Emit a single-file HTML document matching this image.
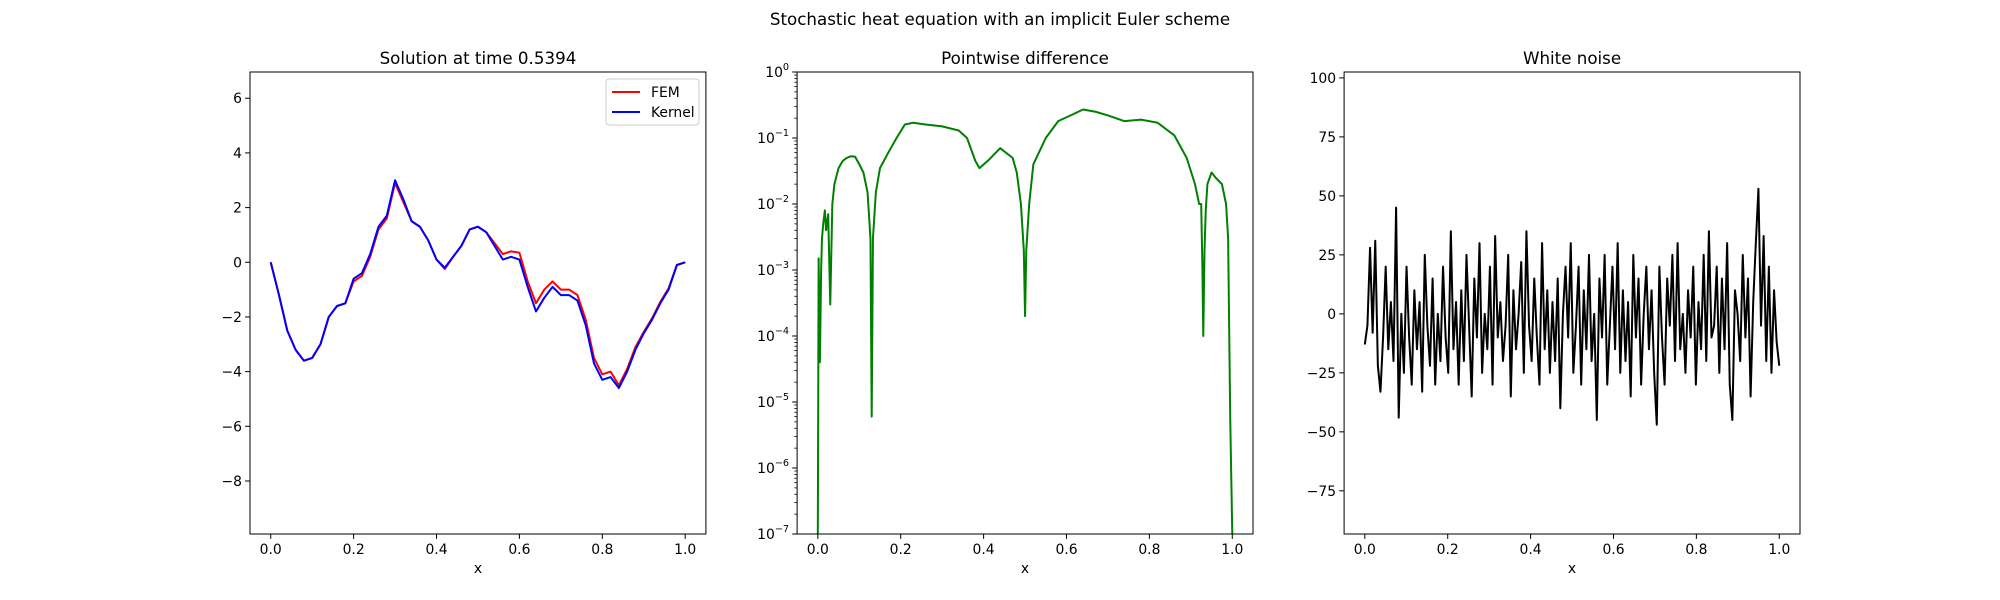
<!DOCTYPE html>
<html><head><meta charset="utf-8">
<style>
html,body{margin:0;padding:0;background:#fff;}
svg{display:block;font-family:"DejaVu Sans","Liberation Sans",sans-serif;}
</style></head>
<body>
<svg id="fig" width="2000" height="600" viewBox="0 0 2000 600" xmlns="http://www.w3.org/2000/svg">
<rect width="2000" height="600" fill="#fff"/>
<text x="1000" y="25" font-size="16.7" text-anchor="middle">Stochastic heat equation with an implicit Euler scheme</text>
</svg>
<script>
// ---------- data ----------
const solX = [0,0.02,0.04,0.06,0.08,0.10,0.12,0.14,0.16,0.18,0.20,0.22,0.24,0.26,0.28,0.30,0.32,0.34,0.36,0.38,0.40,0.42,0.44,0.46,0.48,0.50,0.52,0.54,0.56,0.58,0.60,0.62,0.64,0.66,0.68,0.70,0.72,0.74,0.76,0.78,0.80,0.82,0.84,0.86,0.88,0.90,0.92,0.94,0.96,0.98,1.0];
const kernelY = [0,-1.2,-2.5,-3.2,-3.6,-3.5,-3.0,-2.0,-1.6,-1.5,-0.6,-0.4,0.3,1.3,1.7,3.0,2.3,1.5,1.3,0.8,0.1,-0.2,0.2,0.6,1.2,1.3,1.1,0.6,0.1,0.2,0.1,-0.9,-1.8,-1.3,-0.9,-1.2,-1.2,-1.4,-2.3,-3.7,-4.3,-4.2,-4.6,-4.0,-3.2,-2.6,-2.1,-1.5,-1.0,-0.1,0];
const femY = [0,-1.2,-2.5,-3.2,-3.6,-3.5,-3.0,-2.0,-1.6,-1.5,-0.7,-0.5,0.2,1.2,1.6,2.9,2.2,1.5,1.3,0.8,0.1,-0.25,0.2,0.6,1.2,1.3,1.1,0.7,0.3,0.4,0.35,-0.7,-1.5,-1.0,-0.7,-1.0,-1.0,-1.2,-2.1,-3.5,-4.1,-4.0,-4.5,-3.9,-3.1,-2.55,-2.05,-1.45,-0.95,-0.1,0];

const diffX = [0,0.002,0.005,0.008,0.01,0.013,0.017,0.02,0.025,0.03,0.035,0.04,0.05,0.06,0.07,0.08,0.09,0.10,0.11,0.12,0.127,0.13,0.133,0.14,0.15,0.17,0.19,0.21,0.23,0.26,0.30,0.34,0.36,0.38,0.39,0.41,0.44,0.47,0.48,0.49,0.497,0.5,0.503,0.51,0.52,0.55,0.58,0.61,0.64,0.67,0.70,0.74,0.78,0.82,0.86,0.89,0.91,0.92,0.925,0.928,0.93,0.933,0.936,0.94,0.95,0.96,0.975,0.985,0.99,0.995,1.0];
const diffY = [1e-7,1.5e-3,4e-5,1e-3,3e-3,5e-3,8e-3,4e-3,7e-3,3e-4,1e-2,2e-2,3.5e-2,4.5e-2,5e-2,5.3e-2,5.2e-2,4e-2,3e-2,1.5e-2,3e-3,6e-6,3e-3,1.5e-2,3.5e-2,6e-2,1e-1,1.6e-1,1.7e-1,1.6e-1,1.5e-1,1.3e-1,1e-1,4.5e-2,3.5e-2,4.5e-2,7e-2,5e-2,3e-2,1e-2,2e-3,2e-4,2e-3,1e-2,4e-2,1e-1,1.8e-1,2.2e-1,2.7e-1,2.5e-1,2.2e-1,1.8e-1,1.9e-1,1.7e-1,1.1e-1,5e-2,2e-2,1e-2,1e-2,1e-3,1e-4,2e-3,8e-3,2e-2,3e-2,2.5e-2,2e-2,1e-2,3e-3,6e-6,1e-7];

const noiseY = [-13,-5,28,-8,31,-22,-33,-10,20,-15,5,-20,45,-44,0,-25,20,-10,-30,10,-15,5,-33,25,-5,-22,15,-30,0,-20,20,-10,-25,35,-15,5,-30,10,-20,25,-5,-35,15,-10,30,-25,0,-15,20,-30,33,-10,5,-20,-5,25,-35,10,-15,0,22,-25,35,-5,-20,15,-10,-30,30,-15,10,-25,5,-20,15,-40,0,20,-10,30,-25,-5,20,-30,10,-15,25,-20,0,-45,15,-10,25,-30,-5,20,-15,30,-25,10,-20,5,-35,25,-10,15,-30,0,20,-15,10,-25,-47,20,-10,-30,15,-5,25,-20,30,-15,0,-25,10,-10,20,-30,5,-15,25,-20,35,-10,-5,20,-25,15,-15,30,-30,-45,10,0,-20,25,-10,15,-35,5,30,53,-5,33,-20,20,-25,10,-12,-22];
const noiseTicks = [-75,-50,-25,0,25,50,75,100];
const solTicks = [-8,-6,-4,-2,0,2,4,6];
const xTicks = [0,0.2,0.4,0.6,0.8,1.0];
const logDecades = [-7,-6,-5,-4,-3,-2,-1,0];

// ---------- drawing ----------
const NS='http://www.w3.org/2000/svg';
const svg=document.getElementById('fig');
function mk(tag,attrs,parent){const e=document.createElementNS(NS,tag);for(const k in attrs)e.setAttribute(k,attrs[k]);(parent||svg).appendChild(e);return e;}
const T=72,B=534,W=455.9;
const lefts=[250,797.1,1344.1];
function xs(i){const L=lefts[i];return v=>L+(v+0.05)/1.1*W;}
function linY(lo,hi){return v=>B-(v-lo)/(hi-lo)*(B-T);}
const logY=v=>B-(Math.log10(v)+7)/7*(B-T);

function frame(i,name,title){
  const g=mk('g',{});
  
  
  const t=mk('text',{x:lefts[i]+W/2,y:64,'font-size':16.7,'text-anchor':'middle'},g);
  
  
  t.textContent=title;
  const xl=mk('text',{x:lefts[i]+W/2,y:573,'font-size':13.9,'text-anchor':'middle'},g);
  
  
  xl.textContent='x';
  const X=xs(i);
  xTicks.forEach(v=>{
    const px=X(v);
    mk('line',{x1:px,x2:px,y1:B,y2:B+4.9,stroke:'#000','stroke-width':1},g);
    const tl=mk('text',{x:px,y:B+20,'font-size':13.9,'text-anchor':'middle'},g);
    
    
    tl.textContent=v.toFixed(1);
  });
  return g;
}
function border(i,g){mk('rect',{x:lefts[i],y:T,width:W,height:B-T,fill:'none',stroke:'#000','stroke-width':1},g);}
function yTicksLin(i,g,ticks,Y){
  ticks.forEach(v=>{
    const py=Y(v);
    mk('line',{x1:lefts[i]-4.9,x2:lefts[i],y1:py,y2:py,stroke:'#000','stroke-width':1},g);
    const tl=mk('text',{x:lefts[i]-8,y:py+5,'font-size':13.9,'text-anchor':'end'},g);
    
    
    tl.textContent=(v<0?'\u2212':'')+Math.abs(v);
  });
}
function poly(xsArr,ysArr,X,Y,color,w,g,name){
  const pts=xsArr.map((x,k)=>X(x).toFixed(2)+','+Y(ysArr[k]).toFixed(2)).join(' ');
  const p=mk('polyline',{points:pts,fill:'none',stroke:color,'stroke-width':w,'stroke-linejoin':'round'},g);
  
  
}

// Panel 1
{
  const g=frame(0,'solution-panel','Solution at time 0.5394');
  const X=xs(0),Y=linY(-9.94,6.96);
  yTicksLin(0,g,solTicks,Y);
  poly(solX,femY,X,Y,'#ff0000',2,g,'fem-line');
  poly(solX,kernelY,X,Y,'#0000ff',2,g,'kernel-line');
  border(0,g);
  const lg=mk('g',{},g);
  
  
  mk('rect',{x:606,y:79,width:93,height:46,rx:3,fill:'#fff',stroke:'#ccc','stroke-width':1},lg);
  mk('line',{x1:612,x2:640,y1:92,y2:92,stroke:'#ff0000','stroke-width':2},lg);
  mk('line',{x1:612,x2:640,y1:112,y2:112,stroke:'#0000ff','stroke-width':2},lg);
  const a=mk('text',{x:651,y:97,'font-size':13.9},lg);a.textContent='FEM';
  
  const b=mk('text',{x:651,y:117,'font-size':13.9},lg);b.textContent='Kernel';
  
}
// Panel 2
{
  const g=frame(1,'difference-panel','Pointwise difference');
  const X=xs(1);
  const L=lefts[1];
  logDecades.forEach(d=>{
    const py=logY(Math.pow(10,d));
    mk('line',{x1:L-4.9,x2:L,y1:py,y2:py,stroke:'#000','stroke-width':1},g);
    if(d<0){for(let m=2;m<10;m++){const pm=logY(m*Math.pow(10,d));mk('line',{x1:L-2.8,x2:L,y1:pm,y2:pm,stroke:'#000','stroke-width':0.8},g);}}
    const tl=mk('text',{x:L-8,y:py+5,'font-size':13.9,'text-anchor':'end'},g);
    
    
    const s=d===0?'0':'\u2212'+Math.abs(d);
    tl.innerHTML='10<tspan dy="-7" font-size="9.7">'+s+'</tspan>';
  });
  poly(diffX,diffY,X,logY,'#008000',2,g,'difference-line');
  border(1,g);
}
// Panel 3
{
  const g=frame(2,'noise-panel','White noise');
  const X=xs(2),Y=linY(-93.3,102.5);
  yTicksLin(2,g,noiseTicks,Y);
  const nx=noiseY.map((_,k)=>k/(noiseY.length-1));
  poly(nx,noiseY,X,Y,'#000000',2,g,'noise-line');
  border(2,g);
}
</script>
</body></html>
